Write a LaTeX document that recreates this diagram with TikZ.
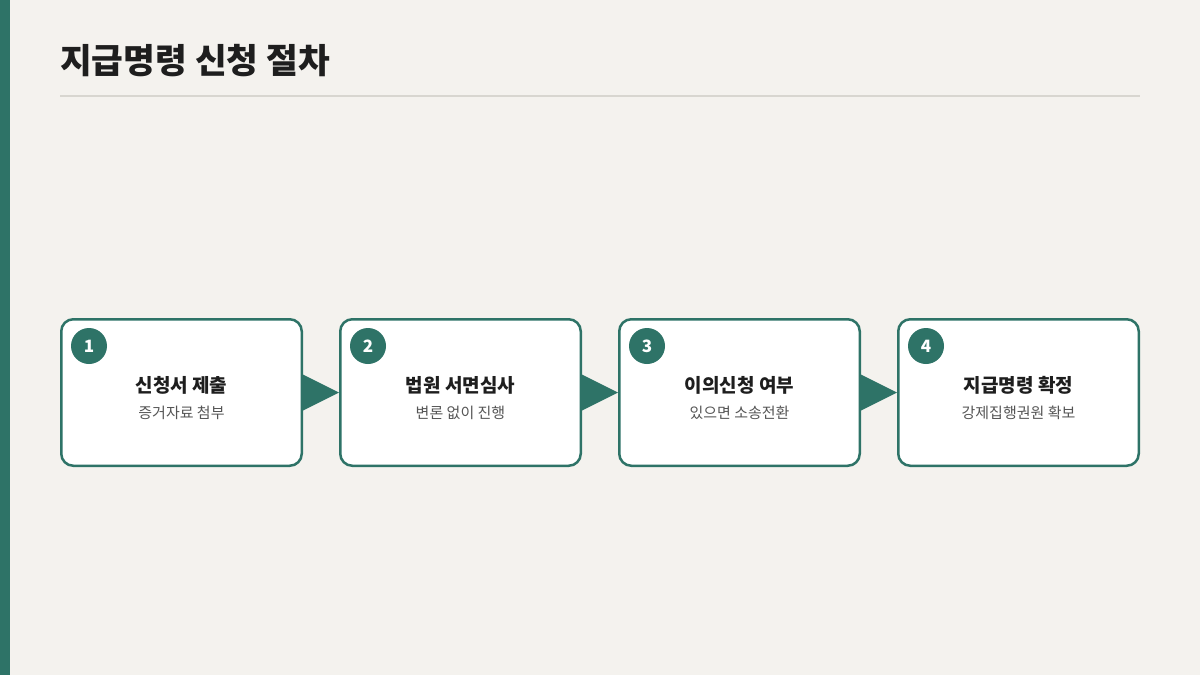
\documentclass[tikz,border=0pt]{standalone}
\usepackage{fontspec}
\setmainfont{Noto Sans CJK KR}
\usetikzlibrary{positioning}
\definecolor{stepgreen}{HTML}{2E7367}
\definecolor{paper}{HTML}{F4F2EE}
\definecolor{rulegray}{HTML}{D8D6D0}
\definecolor{inkdark}{HTML}{1E1E1E}
\definecolor{subgray}{HTML}{555555}
\tikzset{
	stepbox/.style={draw=stepgreen, line width=2.5pt, fill=white, rounded corners=12pt,
		minimum width=240.5pt, minimum height=146.5pt, inner sep=0pt},
	numdot/.style={circle, fill=stepgreen, minimum size=36pt, inner sep=0pt,
		text=white, font=\bfseries\fontsize{17}{17}\selectfont},
	stephead/.style={text=inkdark, inner sep=0pt, font=\bfseries\fontsize{19}{19}\selectfont},
	stepsub/.style={text=subgray, inner sep=0pt, font=\fontsize{15}{15}\selectfont},
	steparrow/.style={fill=stepgreen}
}

\begin{document}
\begin{tikzpicture}[x=1pt,y=-1pt]
	\useasboundingbox (0,0) rectangle (1200,675);
	\fill[paper] (0,0) rectangle (1200,675);
	\fill[stepgreen] (0,0) rectangle (10,675);
	
	% heading
	\node[anchor=base west, inner sep=0pt, text=inkdark, font=\bfseries\fontsize{34.5}{34.5}\selectfont]
		(title) at (60,73) {지급명령 신청 절차};
	\draw[rulegray, line width=2pt] (60,96) -- (1140,96);
	
	% boxes
	\node[stepbox] (b1) at (181.5,392.5) {};
	\foreach \i in {2,...,4}{
		\pgfmathtruncatemacro{\prev}{\i-1}
		\node[stepbox, right=36pt of b\prev] (b\i) {};
	}
	
	\foreach \i/\head/\sub in {1/신청서 제출/증거자료 첨부,
		2/법원 서면심사/변론 없이 진행,
		3/이의신청 여부/있으면 소송전환,
		4/지급명령 확정/강제집행권원 확보}{
		\node[numdot] (n\i) at ([xshift=29pt,yshift=-28pt]b\i.north west) {\i};
		\node[stephead] (h\i) at ([yshift=7.5pt]b\i.center) {\head};
		\node[stepsub] (s\i) at ([yshift=-20.5pt]b\i.center) {\sub};
	}
	
	% arrows between steps
	\foreach \i in {1,...,3}{
		\pgfmathtruncatemacro{\next}{\i+1}
		\fill[steparrow] ([xshift=-2pt,yshift=19pt]b\i.east) -- ([xshift=-2pt,yshift=-19pt]b\i.east)
			-- (b\next.west) -- cycle;
	}
\end{tikzpicture}
\end{document}
